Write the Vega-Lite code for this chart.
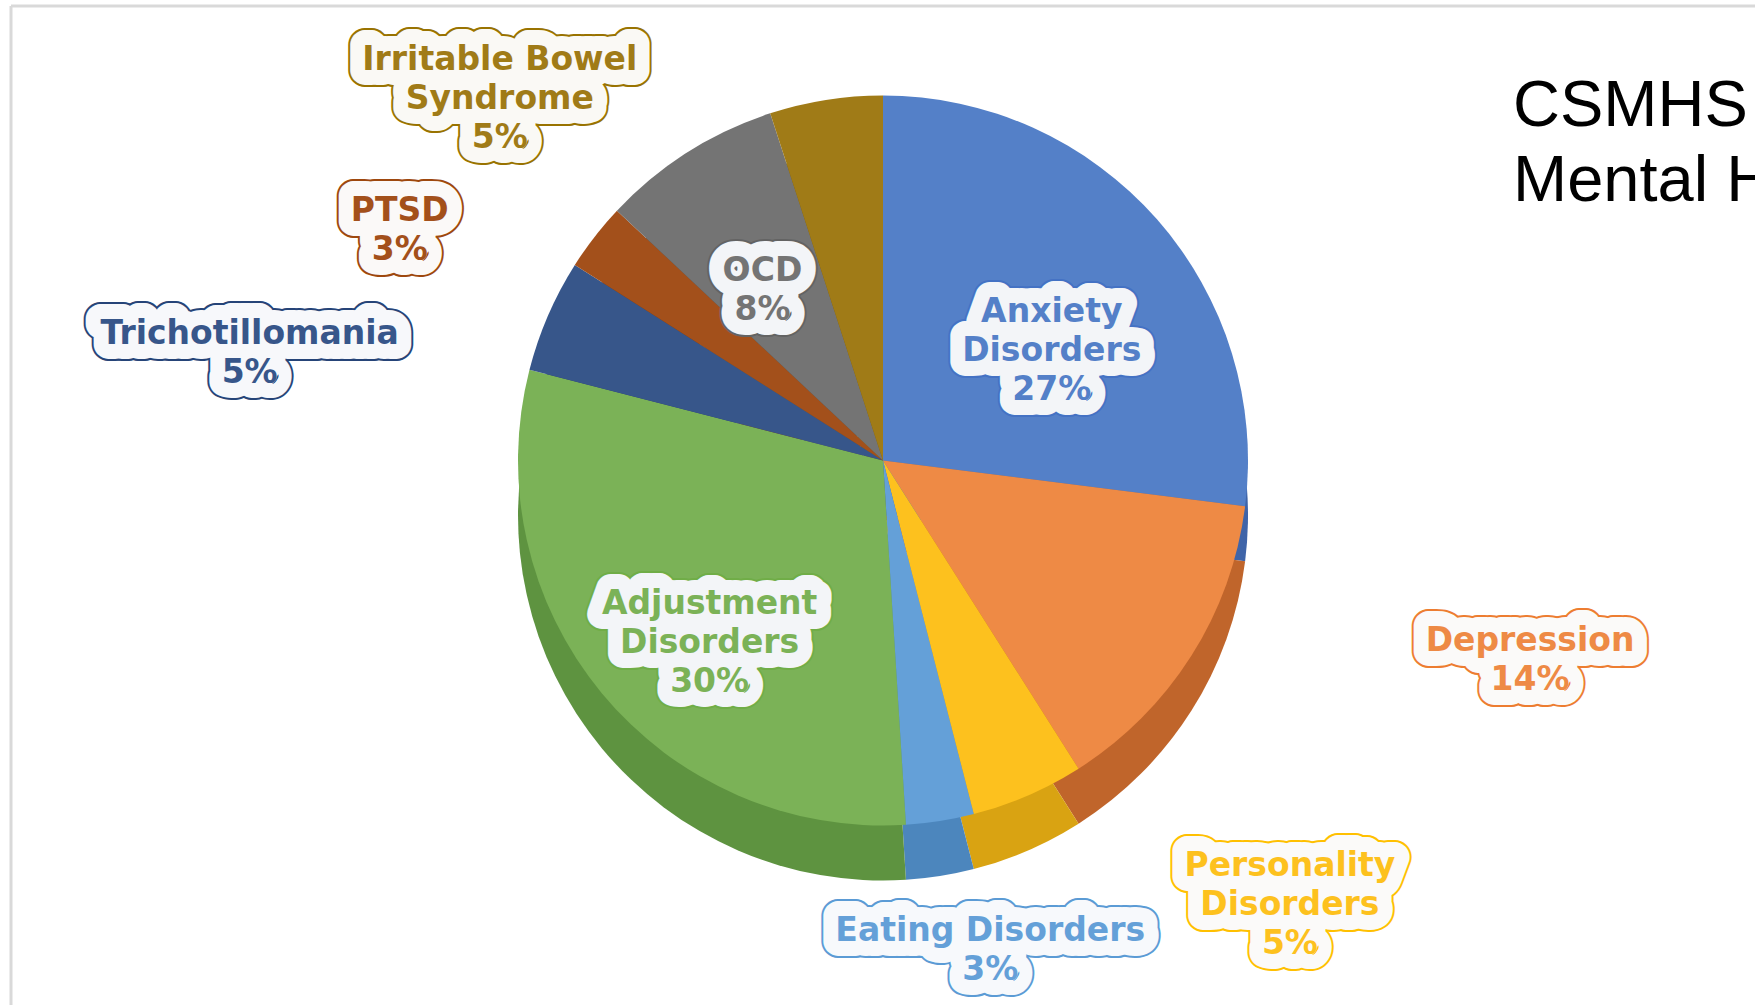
{
  "$schema": "https://vega.github.io/schema/vega-lite/v6.json",
  "width": 1744,
  "height": 999,
  "autosize": {"type": "none"},
  "padding": {"left": 11, "top": 6, "right": 0, "bottom": 0},
  "background": "white",
  "config": {"view": {"stroke": null}},
  "title": {
    "text": ["CSMHS", "Mental Health"],
    "orient": "top",
    "anchor": "start",
    "frame": "group",
    "offset": 0,
    "dx": 1502,
    "dy": 210,
    "baseline": "top",
    "font": "Liberation Sans",
    "fontSize": 65,
    "fontWeight": "normal",
    "color": "#000000",
    "lineHeight": 75
  },
  "data": {
    "values": [
      {"category": "Anxiety Disorders", "name": "Anxiety\nDisorders", "value": 27},
      {"category": "Depression", "name": "Depression", "value": 14},
      {"category": "Personality Disorders", "name": "Personality\nDisorders", "value": 5},
      {"category": "Eating Disorders", "name": "Eating Disorders", "value": 3},
      {"category": "Adjustment Disorders", "name": "Adjustment\nDisorders", "value": 30},
      {"category": "Trichotillomania", "name": "Trichotillomania", "value": 5},
      {"category": "PTSD", "name": "PTSD", "value": 3},
      {"category": "OCD", "name": "OCD", "value": 8},
      {"category": "Irritable Bowel Syndrome", "name": "Irritable Bowel\nSyndrome", "value": 5}
    ]
  },
  "transform": [
    {"window": [{"op": "row_number", "as": "rank"}]},
    {"calculate": "datum.name + '\\n' + datum.value + '%'", "as": "label"}
  ],
  "layer": [
    {
      "data": {"values": [{"frame": 1}]},
      "mark": {"type": "rule", "stroke": "#d9d9d9", "strokeWidth": 3},
      "encoding": {"x": {"value": 0}}
    },
    {
      "data": {"values": [{"frame": 1}]},
      "mark": {"type": "rule", "stroke": "#d9d9d9", "strokeWidth": 3},
      "encoding": {"y": {"value": 0}}
    },
    {
      "encoding": {
        "theta": {"field": "value", "type": "quantitative", "stack": true},
        "order": {"field": "rank", "type": "quantitative"}
      },
      "layer": [
        {
          "mark": {"type": "arc", "outerRadius": 365, "yOffset": 10},
          "encoding": {
            "fill": {
              "field": "category", "type": "nominal", "legend": null,
              "scale": {
                "domain": ["Anxiety Disorders", "Depression", "Personality Disorders", "Eating Disorders", "Adjustment Disorders", "Trichotillomania", "PTSD", "OCD", "Irritable Bowel Syndrome"],
                "range": ["#3F64A8", "#C0652B", "#D9A312", "#4C86BD", "#5E9340", "#283F6B", "#7A380D", "#505050", "#7A5D10"]
              }
            }
          }
        },
        {
          "mark": {"type": "arc", "outerRadius": 365, "yOffset": -45},
          "encoding": {
            "color": {
              "field": "category", "type": "nominal", "legend": null,
              "scale": {
                "domain": ["Anxiety Disorders", "Depression", "Personality Disorders", "Eating Disorders", "Adjustment Disorders", "Trichotillomania", "PTSD", "OCD", "Irritable Bowel Syndrome"],
                "range": ["#5480C8", "#EE8A45", "#FDC11E", "#64A0D8", "#7BB257", "#37568A", "#A3501B", "#747474", "#A07B17"]
              }
            }
          }
        },
        {
          "encoding": {"text": {"condition": {"test": "indexof(['Anxiety Disorders','Adjustment Disorders','OCD'], datum.category) >= 0", "field": "label"}, "value": ""}},
          "layer": [
            {"mark": {"type": "text", "radius": 225, "yOffset": -45, "font": "DejaVu Sans", "fontWeight": "bold", "fontSize": 33, "lineHeight": 39, "lineBreak": "\n", "align": "center", "baseline": "middle", "fill": "#f3f5f8", "strokeWidth": 34, "strokeJoin": "round"},
             "encoding": {"stroke": {"field": "category", "type": "nominal", "legend": null, "scale": {"domain": ["Anxiety Disorders", "Depression", "Personality Disorders", "Eating Disorders", "Adjustment Disorders", "Trichotillomania", "PTSD", "OCD", "Irritable Bowel Syndrome"], "range": ["#4472C4", "#ED7D31", "#FFC000", "#5B9BD5", "#70AD47", "#264478", "#9E480E", "#636363", "#997300"]}}}},
            {"mark": {"type": "text", "radius": 225, "yOffset": -45, "font": "DejaVu Sans", "fontWeight": "bold", "fontSize": 33, "lineHeight": 39, "lineBreak": "\n", "align": "center", "baseline": "middle", "fill": "#f3f5f8", "stroke": "#f3f5f8", "strokeWidth": 30, "strokeJoin": "round"}},
            {"mark": {"type": "text", "radius": 225, "yOffset": -45, "font": "DejaVu Sans", "fontWeight": "bold", "fontSize": 33, "lineHeight": 39, "lineBreak": "\n", "align": "center", "baseline": "middle"},
             "encoding": {"color": {"field": "category", "type": "nominal", "legend": null}}}
          ]
        },
        {
          "encoding": {"text": {"condition": {"test": "datum.category === 'Depression'", "field": "label"}, "value": ""}},
          "layer": [
            {"mark": {"type": "text", "radius": 385, "dx": 322, "dy": -26, "yOffset": -45, "font": "DejaVu Sans", "fontWeight": "bold", "fontSize": 33, "lineHeight": 39, "lineBreak": "\n", "align": "center", "baseline": "middle", "fill": "#fbfaf9", "strokeWidth": 34, "strokeJoin": "round"},
             "encoding": {"stroke": {"field": "category", "type": "nominal", "legend": null}}},
            {"mark": {"type": "text", "radius": 385, "dx": 322, "dy": -26, "yOffset": -45, "font": "DejaVu Sans", "fontWeight": "bold", "fontSize": 33, "lineHeight": 39, "lineBreak": "\n", "align": "center", "baseline": "middle", "fill": "#fbfaf9", "stroke": "#fbfaf9", "strokeWidth": 30, "strokeJoin": "round"}},
            {"mark": {"type": "text", "radius": 385, "dx": 322, "dy": -26, "yOffset": -45, "font": "DejaVu Sans", "fontWeight": "bold", "fontSize": 33, "lineHeight": 39, "lineBreak": "\n", "align": "center", "baseline": "middle"},
             "encoding": {"color": {"field": "category", "type": "nominal", "legend": null}}}
          ]
        },
        {
          "encoding": {"text": {"condition": {"test": "datum.category === 'Personality Disorders'", "field": "label"}, "value": ""}},
          "layer": [
            {"mark": {"type": "text", "radius": 385, "dx": 254, "dy": 52, "yOffset": -45, "font": "DejaVu Sans", "fontWeight": "bold", "fontSize": 33, "lineHeight": 39, "lineBreak": "\n", "align": "center", "baseline": "middle", "fill": "#fbfaf9", "strokeWidth": 34, "strokeJoin": "round"},
             "encoding": {"stroke": {"field": "category", "type": "nominal", "legend": null}}},
            {"mark": {"type": "text", "radius": 385, "dx": 254, "dy": 52, "yOffset": -45, "font": "DejaVu Sans", "fontWeight": "bold", "fontSize": 33, "lineHeight": 39, "lineBreak": "\n", "align": "center", "baseline": "middle", "fill": "#fbfaf9", "stroke": "#fbfaf9", "strokeWidth": 30, "strokeJoin": "round"}},
            {"mark": {"type": "text", "radius": 385, "dx": 254, "dy": 52, "yOffset": -45, "font": "DejaVu Sans", "fontWeight": "bold", "fontSize": 33, "lineHeight": 39, "lineBreak": "\n", "align": "center", "baseline": "middle"},
             "encoding": {"color": {"field": "category", "type": "nominal", "legend": null}}}
          ]
        },
        {
          "encoding": {"text": {"condition": {"test": "datum.category === 'Eating Disorders'", "field": "label"}, "value": ""}},
          "layer": [
            {"mark": {"type": "text", "radius": 385, "dx": 47, "dy": 90, "yOffset": -45, "font": "DejaVu Sans", "fontWeight": "bold", "fontSize": 33, "lineHeight": 39, "lineBreak": "\n", "align": "center", "baseline": "middle", "fill": "#f7f9fc", "strokeWidth": 34, "strokeJoin": "round"},
             "encoding": {"stroke": {"field": "category", "type": "nominal", "legend": null}}},
            {"mark": {"type": "text", "radius": 385, "dx": 47, "dy": 90, "yOffset": -45, "font": "DejaVu Sans", "fontWeight": "bold", "fontSize": 33, "lineHeight": 39, "lineBreak": "\n", "align": "center", "baseline": "middle", "fill": "#f7f9fc", "stroke": "#f7f9fc", "strokeWidth": 30, "strokeJoin": "round"}},
            {"mark": {"type": "text", "radius": 385, "dx": 47, "dy": 90, "yOffset": -45, "font": "DejaVu Sans", "fontWeight": "bold", "fontSize": 33, "lineHeight": 39, "lineBreak": "\n", "align": "center", "baseline": "middle"},
             "encoding": {"color": {"field": "category", "type": "nominal", "legend": null}}}
          ]
        },
        {
          "encoding": {"text": {"condition": {"test": "datum.category === 'Trichotillomania'", "field": "label"}, "value": ""}},
          "layer": [
            {"mark": {"type": "text", "radius": 385, "dx": -280, "dy": 26, "yOffset": -45, "font": "DejaVu Sans", "fontWeight": "bold", "fontSize": 33, "lineHeight": 39, "lineBreak": "\n", "align": "center", "baseline": "middle", "fill": "#f7f8fb", "strokeWidth": 34, "strokeJoin": "round"},
             "encoding": {"stroke": {"field": "category", "type": "nominal", "legend": null}}},
            {"mark": {"type": "text", "radius": 385, "dx": -280, "dy": 26, "yOffset": -45, "font": "DejaVu Sans", "fontWeight": "bold", "fontSize": 33, "lineHeight": 39, "lineBreak": "\n", "align": "center", "baseline": "middle", "fill": "#f7f8fb", "stroke": "#f7f8fb", "strokeWidth": 30, "strokeJoin": "round"}},
            {"mark": {"type": "text", "radius": 385, "dx": -280, "dy": 26, "yOffset": -45, "font": "DejaVu Sans", "fontWeight": "bold", "fontSize": 33, "lineHeight": 39, "lineBreak": "\n", "align": "center", "baseline": "middle"},
             "encoding": {"color": {"field": "category", "type": "nominal", "legend": null}}}
          ]
        },
        {
          "encoding": {"text": {"condition": {"test": "datum.category === 'PTSD'", "field": "label"}, "value": ""}},
          "layer": [
            {"mark": {"type": "text", "radius": 385, "dx": -179, "dy": -14, "yOffset": -45, "font": "DejaVu Sans", "fontWeight": "bold", "fontSize": 33, "lineHeight": 39, "lineBreak": "\n", "align": "center", "baseline": "middle", "fill": "#fbf9f8", "strokeWidth": 34, "strokeJoin": "round"},
             "encoding": {"stroke": {"field": "category", "type": "nominal", "legend": null}}},
            {"mark": {"type": "text", "radius": 385, "dx": -179, "dy": -14, "yOffset": -45, "font": "DejaVu Sans", "fontWeight": "bold", "fontSize": 33, "lineHeight": 39, "lineBreak": "\n", "align": "center", "baseline": "middle", "fill": "#fbf9f8", "stroke": "#fbf9f8", "strokeWidth": 30, "strokeJoin": "round"}},
            {"mark": {"type": "text", "radius": 385, "dx": -179, "dy": -14, "yOffset": -45, "font": "DejaVu Sans", "fontWeight": "bold", "fontSize": 33, "lineHeight": 39, "lineBreak": "\n", "align": "center", "baseline": "middle"},
             "encoding": {"color": {"field": "category", "type": "nominal", "legend": null}}}
          ]
        },
        {
          "encoding": {"text": {"condition": {"test": "datum.category === 'Irritable Bowel Syndrome'", "field": "label"}, "value": ""}},
          "layer": [
            {"mark": {"type": "text", "radius": 385, "dx": -323, "dy": -20, "yOffset": -45, "font": "DejaVu Sans", "fontWeight": "bold", "fontSize": 33, "lineHeight": 39, "lineBreak": "\n", "align": "center", "baseline": "middle", "fill": "#faf9f5", "strokeWidth": 34, "strokeJoin": "round"},
             "encoding": {"stroke": {"field": "category", "type": "nominal", "legend": null}}},
            {"mark": {"type": "text", "radius": 385, "dx": -323, "dy": -20, "yOffset": -45, "font": "DejaVu Sans", "fontWeight": "bold", "fontSize": 33, "lineHeight": 39, "lineBreak": "\n", "align": "center", "baseline": "middle", "fill": "#faf9f5", "stroke": "#faf9f5", "strokeWidth": 30, "strokeJoin": "round"}},
            {"mark": {"type": "text", "radius": 385, "dx": -323, "dy": -20, "yOffset": -45, "font": "DejaVu Sans", "fontWeight": "bold", "fontSize": 33, "lineHeight": 39, "lineBreak": "\n", "align": "center", "baseline": "middle"},
             "encoding": {"color": {"field": "category", "type": "nominal", "legend": null}}}
          ]
        }
      ]
    }
  ]
}
